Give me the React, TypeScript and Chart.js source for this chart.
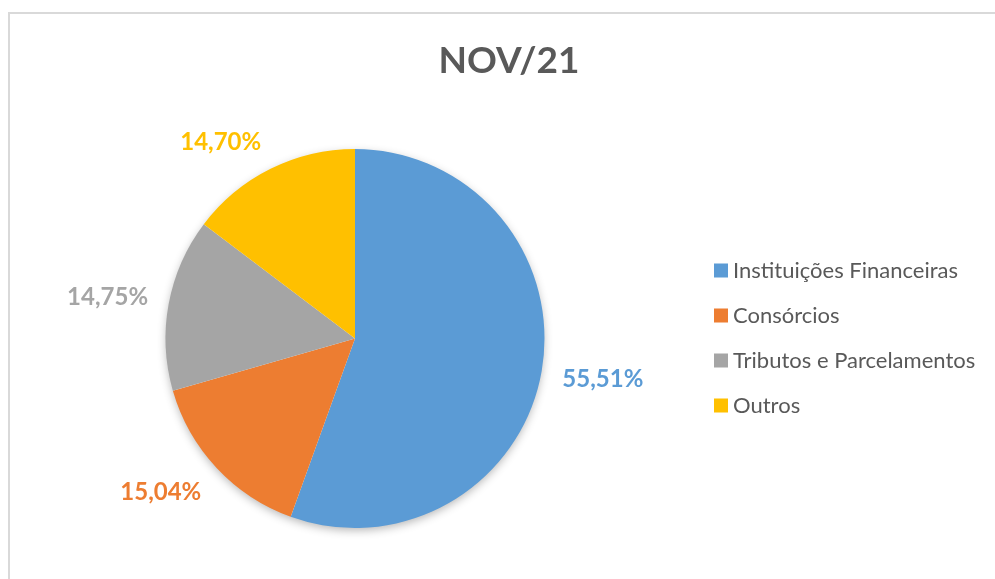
import React, { useEffect, useRef } from "react";
import { Chart, registerables } from "chart.js";

Chart.register(...registerables);

const chartTitle = "NOV/21";
const categories = [
  "Instituições Financeiras",
  "Consórcios",
  "Tributos e Parcelamentos",
  "Outros",
];
const shares = [55.51, 15.04, 14.75, 14.7];
const shareLabels = ["55,51%", "15,04%", "14,75%", "14,70%"];
const sliceColors = ["#5B9BD5", "#ED7D31", "#A5A5A5", "#FFC000"];

const TEXT_GRAY = "#595959";
const FONT = "Lato, 'Open Sans', 'DejaVu Sans', sans-serif";

const decorPlugin = {
  id: "decor",
  beforeDatasetsDraw(chart: any) {
    const meta = chart.getDatasetMeta(0);
    const arc = meta.data[0];
    if (!arc) return;
    const { x, y, outerRadius } = arc.getProps(["x", "y", "outerRadius"], true);
    const ctx = chart.ctx;
    ctx.save();
    ctx.shadowColor = "rgba(0,0,0,0.3)";
    ctx.shadowBlur = 10;
    ctx.shadowOffsetY = 3;
    ctx.beginPath();
    ctx.arc(x, y, outerRadius - 1, 0, Math.PI * 2);
    ctx.fillStyle = "#ffffff";
    ctx.fill();
    ctx.restore();
  },
  afterDraw(chart: any) {
    const ctx = chart.ctx;
    const W = chart.width;
    const H = chart.height;
    ctx.save();

    // frame
    ctx.strokeStyle = "#D9D9D9";
    ctx.lineWidth = 2;
    ctx.strokeRect(9, 13, W + 20, H + 20);

    // title
    ctx.fillStyle = TEXT_GRAY;
    ctx.font = `bold 37px ${FONT}`;
    ctx.textAlign = "center";
    ctx.textBaseline = "alphabetic";
    ctx.fillText(chartTitle, 509, 73);

    const meta = chart.getDatasetMeta(0);

    // legend
    ctx.font = `22px ${FONT}`;
    ctx.textAlign = "left";
    const rowGap = 45;
    const first = 338 - ((categories.length - 1) * rowGap) / 2;
    categories.forEach((c, i) => {
      const cy = first + i * rowGap;
      ctx.fillStyle = sliceColors[i];
      ctx.fillRect(714, cy - 7, 14, 14);
      ctx.fillStyle = TEXT_GRAY;
      const m = ctx.measureText("I");
      ctx.fillText(c, 733, cy + m.actualBoundingBoxAscent / 2);
    });

    // data labels
    ctx.font = `bold 24px ${FONT}`;
    ctx.textAlign = "center";
    meta.data.forEach((el: any, i: number) => {
      const p = el.getProps(["x", "y", "startAngle", "endAngle", "outerRadius"], true);
      const a = (p.startAngle + p.endAngle) / 2;
      const cos = Math.cos(a);
      const sin = Math.sin(a);
      const d = p.outerRadius + 21;
      const m = ctx.measureText(shareLabels[i]);
      const w = m.width;
      const h = m.actualBoundingBoxAscent;
      const k = 2.3;
      const cl = (v: number) => Math.max(-1, Math.min(1, v));
      const cx = p.x + d * cos + (w / 2) * cl(cos * k);
      const cy = p.y + d * sin + (h / 2) * cl(sin * k);
      ctx.fillStyle = sliceColors[i];
      ctx.fillText(shareLabels[i], cx, cy + h / 2);
    });

    ctx.restore();
  },
};

export default function App() {
  const ref = useRef<HTMLCanvasElement | null>(null);

  useEffect(() => {
    if (!ref.current) return;
    const chart = new Chart(ref.current, {
      type: "pie",
      data: {
        labels: categories,
        datasets: [
          {
            data: shares,
            backgroundColor: sliceColors,
            borderWidth: 0,
          },
        ],
      },
      options: {
        animation: false,
        responsive: true,
        maintainAspectRatio: false,
        layout: {
          padding: { left: 165, right: 450, top: 149, bottom: 51 },
        },
        plugins: {
          legend: { display: false },
          title: { display: false },
          tooltip: { enabled: false },
        },
      },
      plugins: [decorPlugin],
    });
    return () => chart.destroy();
  }, []);

  return (
    <div
      style={{
        position: "fixed",
        left: 0,
        top: 0,
        width: 995,
        height: 579,
        background: "#ffffff",
      }}
    >
      <canvas ref={ref} />
    </div>
  );
}
